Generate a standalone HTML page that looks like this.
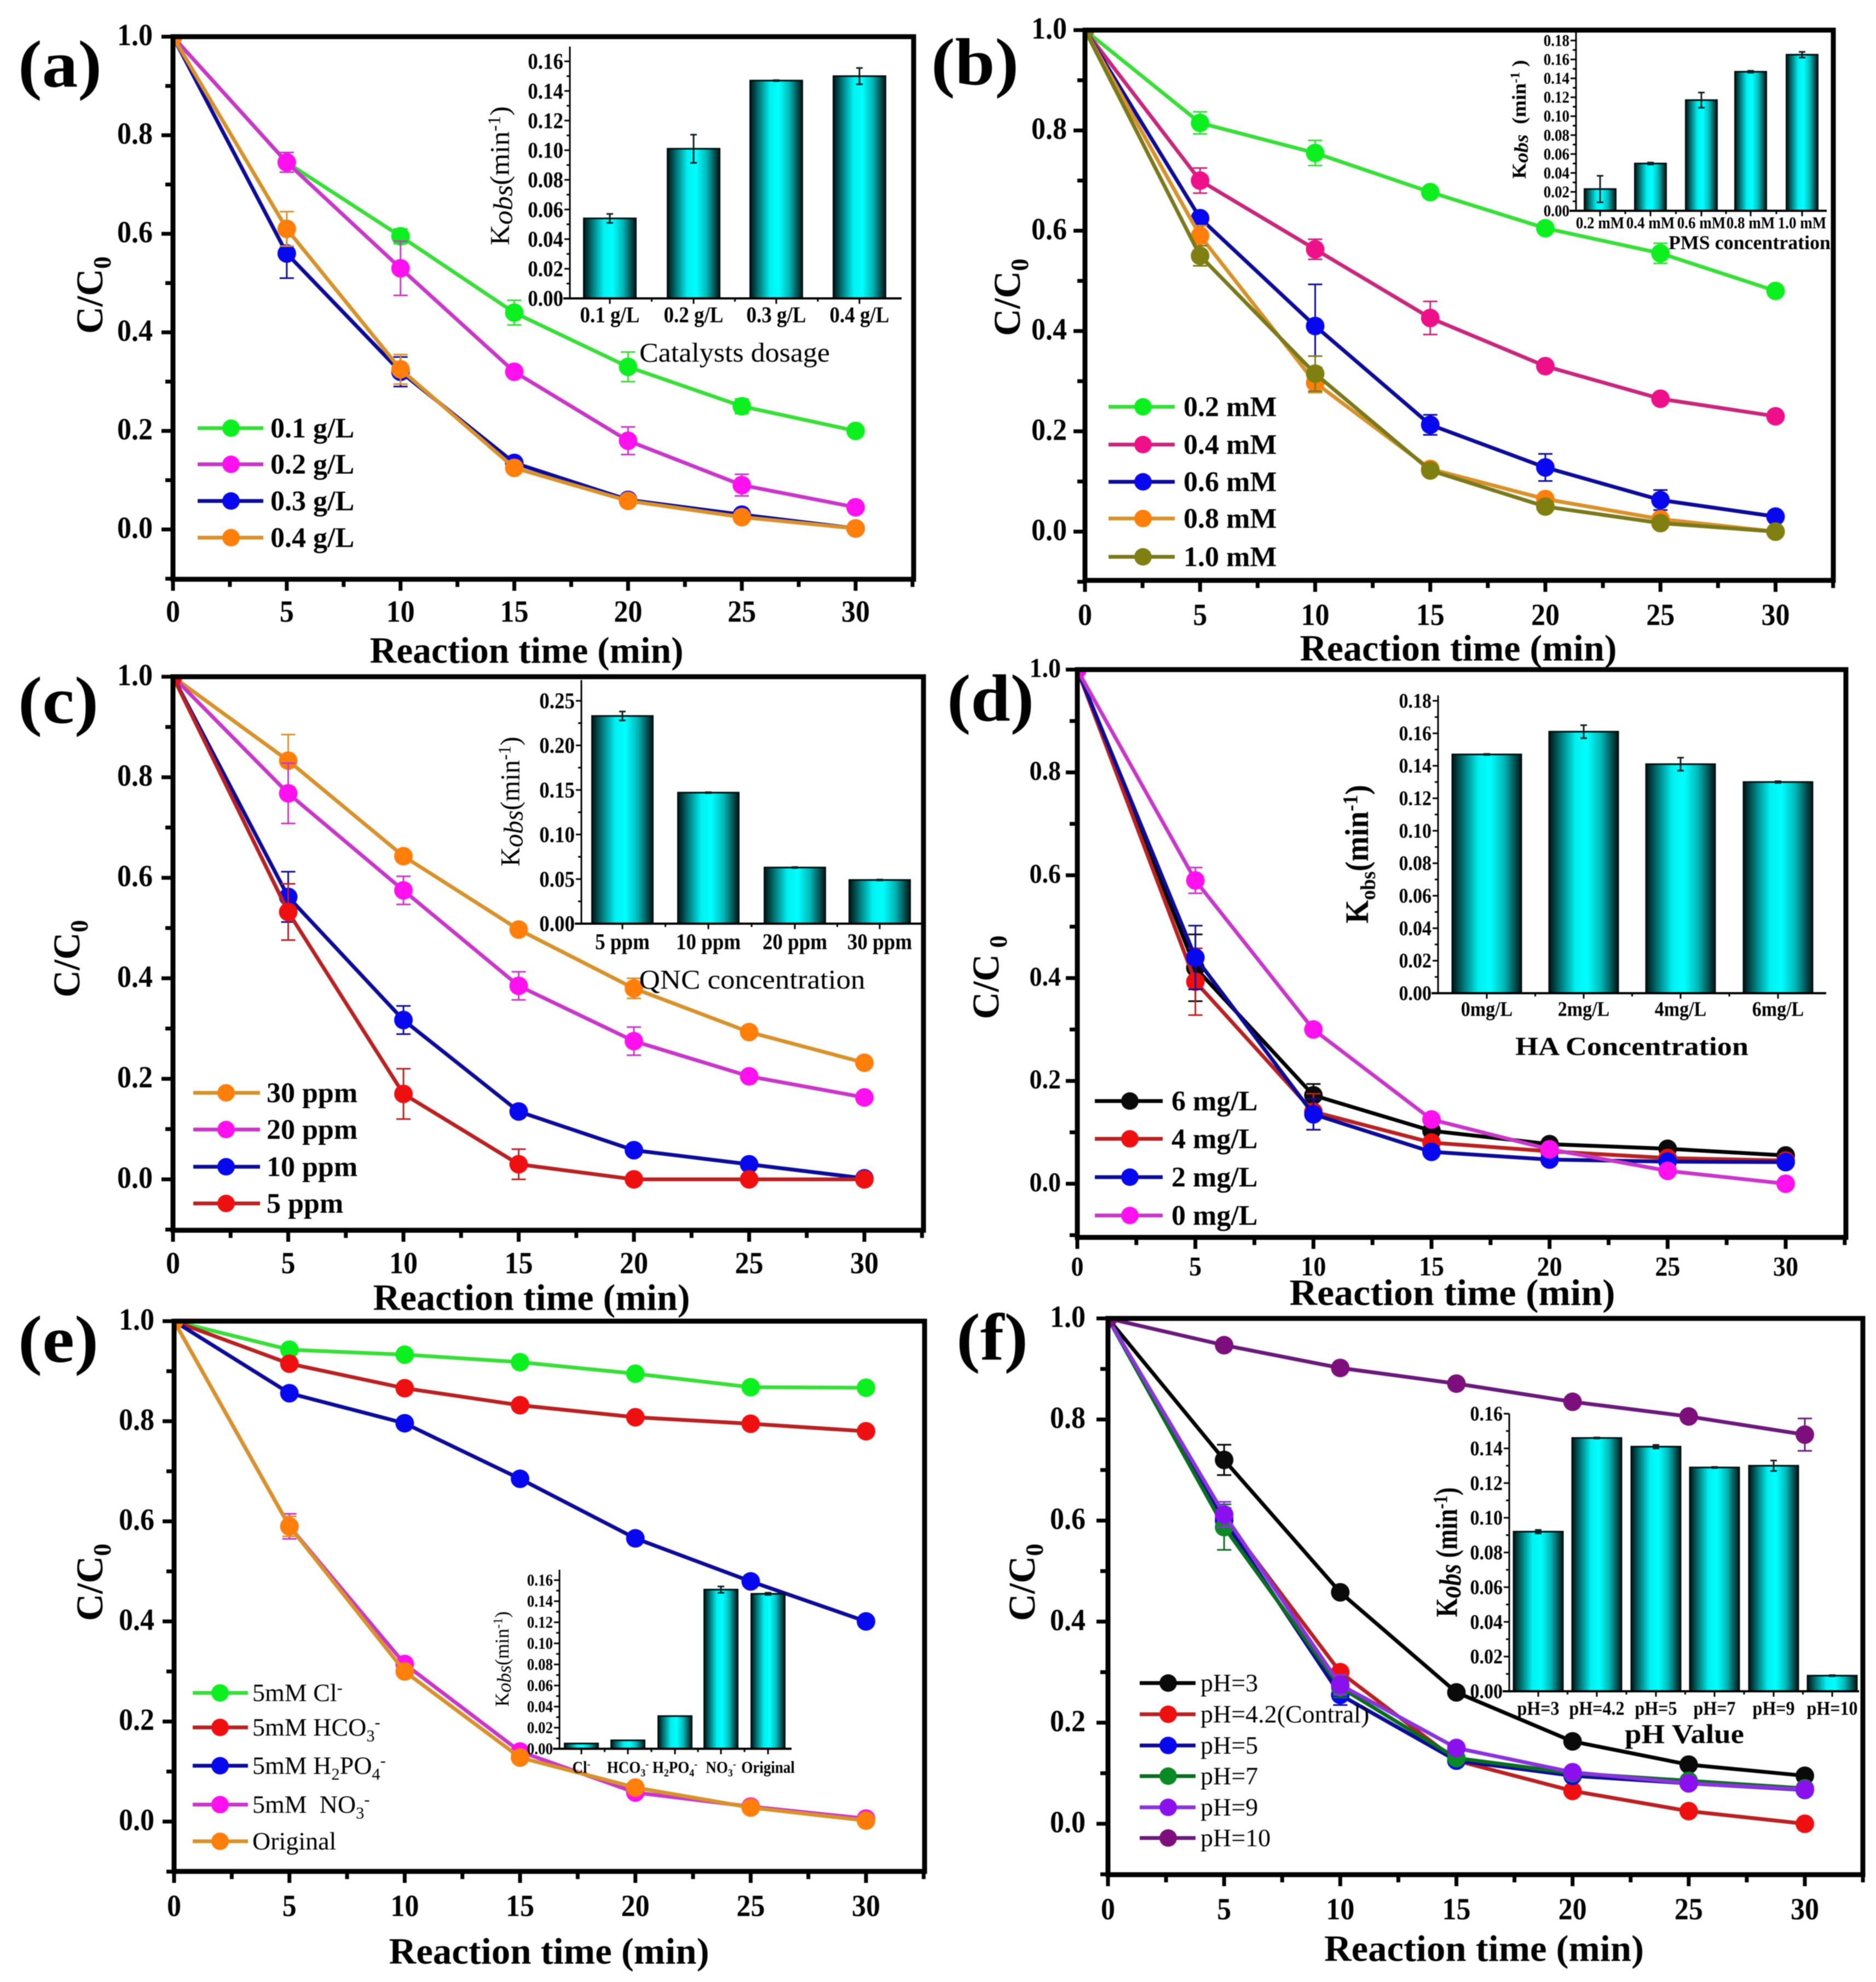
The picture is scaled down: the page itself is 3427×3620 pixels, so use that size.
<!DOCTYPE html>
<html lang="en">
<head>
<meta charset="utf-8">
<title>Degradation kinetics panels</title>
<style>
html,body{margin:0;padding:0;background:#fff;}
svg{display:block;font-family:"Liberation Serif",serif;filter:blur(0.7px);}
</style>
</head>
<body>
<svg id="figure" xmlns="http://www.w3.org/2000/svg" width="3427" height="3620" viewBox="0 0 3427 3620">
<defs>
<linearGradient id="barFill" x1="0" x2="1" y1="0" y2="0">
<stop offset="0" stop-color="#001414"/>
<stop offset="0.18" stop-color="#007f7f"/>
<stop offset="0.38" stop-color="#00f0f0"/>
<stop offset="0.55" stop-color="#00ffff"/>
<stop offset="0.75" stop-color="#00b8b8"/>
<stop offset="1" stop-color="#001414"/>
</linearGradient>
</defs>
<rect x="0" y="0" width="3427" height="3620" fill="#ffffff"/>
</svg>
<script>
/* ---------- shared axis values ---------- */
const timePoints = [0,5,10,15,20,25,30];
const xTickLabels = [0,5,10,15,20,25,30];
const yTickLabels = [0,0.2,0.4,0.6,0.8,1.0];

/* ---------- panel a ---------- */
const a_01 = [1,0.745,0.595,0.44,0.33,0.25,0.20];
const a_01_err = [0,0.02,0.015,0.025,0.03,0.015,0.005];
const a_02 = [1,0.745,0.53,0.32,0.18,0.09,0.045];
const a_02_err = [0,0.02,0.055,0.01,0.028,0.022,0.005];
const a_03 = [1,0.56,0.32,0.135,0.06,0.03,0.002];
const a_03_err = [0,0.05,0.03,0.01,0.01,0.008,0];
const a_04 = [1,0.61,0.325,0.125,0.058,0.025,0.002];
const a_04_err = [0,0.035,0.03,0.01,0.008,0.005,0];
const a_cats = ["0.1 g/L","0.2 g/L","0.3 g/L","0.4 g/L"];
const a_k = [0.054,0.101,0.147,0.150];
const a_kErr = [0.003,0.0095,0.0003,0.0055];
const a_kTicks = [0,0.02,0.04,0.06,0.08,0.10,0.12,0.14,0.16];

/* ---------- panel b ---------- */
const b_02 = [1,0.815,0.755,0.677,0.605,0.555,0.48];
const b_02_err = [0,0.022,0.025,0.01,0.01,0.02,0.005];
const b_04 = [1,0.70,0.563,0.426,0.33,0.265,0.23];
const b_04_err = [0,0.025,0.02,0.033,0.005,0.005,0.003];
const b_06 = [1,0.625,0.41,0.213,0.128,0.063,0.03];
const b_06_err = [0,0.005,0.083,0.02,0.027,0.02,0.005];
const b_08 = [1,0.59,0.297,0.125,0.065,0.025,0];
const b_08_err = [0,0.02,0.02,0.01,0.01,0.01,0.002];
const b_10 = [1,0.55,0.315,0.122,0.05,0.017,0];
const b_10_err = [0,0.02,0.035,0.01,0.01,0.008,0.002];
const b_cats = ["0.2 mM","0.4 mM","0.6 mM","0.8 mM","1.0 mM"];
const b_k = [0.023,0.05,0.117,0.147,0.165];
const b_kErr = [0.014,0.001,0.008,0.001,0.003];
const b_kTicks = [0,0.02,0.04,0.06,0.08,0.10,0.12,0.14,0.16,0.18];

/* ---------- panel c ---------- */
const c_30 = [1,0.833,0.643,0.497,0.38,0.293,0.232];
const c_30_err = [0,0.052,0.005,0.005,0.02,0.005,0.005];
const c_20 = [1,0.768,0.575,0.385,0.275,0.205,0.163];
const c_20_err = [0,0.06,0.028,0.028,0.028,0.01,0.005];
const c_10 = [1,0.562,0.317,0.135,0.058,0.03,0.002];
const c_10_err = [0,0.05,0.028,0.005,0.005,0.005,0];
const c_5 = [1,0.532,0.17,0.03,0,0,0];
const c_5_err = [0,0.056,0.05,0.03,0,0,0];
const c_cats = ["5 ppm","10 ppm","20 ppm","30 ppm"];
const c_k = [0.233,0.147,0.063,0.049];
const c_kErr = [0.005,0.0005,0.0005,0.0005];
const c_kTicks = [0,0.05,0.10,0.15,0.20,0.25];

/* ---------- panel d ---------- */
const d_6 = [1,0.42,0.172,0.103,0.077,0.068,0.055];
const d_6_err = [0,0.065,0.022,0.005,0.005,0.005,0.005];
const d_4 = [1,0.393,0.14,0.08,0.063,0.05,0.045];
const d_4_err = [0,0.065,0.035,0.005,0.005,0.005,0.005];
const d_2 = [1,0.44,0.135,0.062,0.047,0.043,0.042];
const d_2_err = [0,0.062,0.03,0.005,0.005,0.005,0.005];
const d_0 = [1,0.59,0.30,0.125,0.067,0.025,0];
const d_0_err = [0,0.025,0.005,0.005,0.005,0.005,0];
const d_cats = ["0mg/L","2mg/L","4mg/L","6mg/L"];
const d_k = [0.147,0.161,0.141,0.130];
const d_kErr = [0.0003,0.004,0.004,0.0005];
const d_kTicks = [0,0.02,0.04,0.06,0.08,0.10,0.12,0.14,0.16,0.18];

/* ---------- panel e ---------- */
const e_cl = [1,0.943,0.933,0.918,0.895,0.868,0.867];
const e_cl_err = [0,0.003,0.003,0.003,0.003,0.003,0.003];
const e_hco3 = [1,0.915,0.866,0.832,0.808,0.795,0.78];
const e_hco3_err = [0,0.003,0.003,0.003,0.003,0.003,0.003];
const e_h2po4 = [1,0.856,0.796,0.685,0.566,0.48,0.40];
const e_h2po4_err = [0,0.003,0.003,0.003,0.003,0.003,0.003];
const e_no3 = [1,0.59,0.315,0.14,0.058,0.03,0.006];
const e_no3_err = [0,0.025,0.005,0.005,0.005,0.005,0.005];
const e_orig = [1,0.59,0.30,0.128,0.068,0.028,0.002];
const e_orig_err = [0,0.02,0.005,0.005,0.005,0.005,0.002];
const e_cats = ["Cl^{-}","HCO_{3}^{-}","H_{2}PO_{4}^{-}","NO_{3}^{-}","Original"];
const e_k = [0.005,0.008,0.031,0.151,0.147];
const e_kErr = [0,0,0,0.003,0.001];
const e_kTicks = [0,0.02,0.04,0.06,0.08,0.10,0.12,0.14,0.16];

/* ---------- panel f ---------- */
const f_3 = [1,0.72,0.458,0.26,0.163,0.117,0.095];
const f_3_err = [0,0.03,0.005,0.005,0.005,0.005,0.005];
const f_42 = [1,0.605,0.30,0.125,0.065,0.025,0];
const f_42_err = [0,0.02,0.005,0.005,0.005,0.005,0];
const f_5 = [1,0.60,0.255,0.125,0.095,0.08,0.067];
const f_5_err = [0,0.02,0.02,0.005,0.005,0.005,0.005];
const f_7 = [1,0.587,0.27,0.13,0.10,0.085,0.07];
const f_7_err = [0,0.045,0.02,0.005,0.005,0.005,0.005];
const f_9 = [1,0.612,0.275,0.15,0.102,0.08,0.068];
const f_9_err = [0,0.025,0.02,0.005,0.005,0.005,0.005];
const f_10 = [1,0.947,0.902,0.871,0.835,0.806,0.77];
const f_10_err = [0,0.005,0.005,0.005,0.005,0.005,0.032];
const f_cats = ["pH=3","pH=4.2","pH=5","pH=7","pH=9","pH=10"];
const f_k = [0.092,0.146,0.141,0.129,0.130,0.009];
const f_kErr = [0.001,0.0003,0.001,0.0003,0.003,0.0003];
const f_kTicks = [0,0.02,0.04,0.06,0.08,0.10,0.12,0.14,0.16];

/* ---------- styling and layout ---------- */
const GREEN = {l:"#3ade3a",m:"#0df01f"}, MAG = {l:"#c838c8",m:"#ff10ee"}, NAVY = {l:"#0c0c98",m:"#0808ee"},
      ORG = {l:"#d8922c",m:"#ff7f0a"}, PINK = {l:"#c8287c",m:"#ee1088"}, OLIVE = {l:"#7a7a1c",m:"#808012"},
      RED = {l:"#b82222",m:"#ee1010"}, BLK = {l:"#000000",m:"#0a0a0a"}, DGRN = {l:"#0a6e20",m:"#0a8a24"},
      VIO = {l:"#8a34dc",m:"#8a10ee"}, PUR = {l:"#6a1a7a",m:"#7d0f7d"};

const panels = [
 {id:"a",left:316,right:1669,top:67,bottom:1058,x0:316,x30:1563,yOne:67,yZero:967,fs:52,xLabY:1117,yLabR:279,
  xTitle:[962,1188,573,68],yTitle:[164,539,69,"C/C_{0}"],tag:[33,118,153,122],
  series:[["0.1 g/L",a_01,a_01_err,GREEN],["0.2 g/L",a_02,a_02_err,MAG],["0.3 g/L",a_03,a_03_err,NAVY],["0.4 g/L",a_04,a_04_err,ORG]],
  legend:{x1:361,x2:481,mx:422,tx:494,ys:[782,848,915,982],fs:52,weight:"bold"},
  inset:{ax:1041,base:545,top:85,right:1647,refV:0.16,refY:112,ticks:a_kTicks,fs:37,cats:a_cats,k:a_k,err:a_kErr,
   centers:[1114,1267,1418,1570],bw:95,catY:575,catFs:37,title:"Catalysts dosage",tPos:[1342,644,348,50],tWeight:"normal",
   yT:"K~{obs}(min^{-1})",yTPos:[913,321,254,50],yW:"normal"}},
 {id:"b",left:1982,right:3349,top:55,bottom:1060,x0:1982,x30:3243.5,yOne:55,yZero:971,fs:52,xLabY:1123,yLabR:1949,
  xTitle:[2664,1184,579,68],yTitle:[1840,543,69,"C/C_{0}"],tag:[1701,114,160,122],
  series:[["0.2 mM",b_02,b_02_err,GREEN],["0.4 mM",b_04,b_04_err,PINK],["0.6 mM",b_06,b_06_err,NAVY],["0.8 mM",b_08,b_08_err,ORG],["1.0 mM",b_10,b_10_err,OLIVE]],
  legend:{x1:2025,x2:2146,mx:2088,tx:2162,ys:[743,812,880,947,1017],fs:52,weight:"bold"},
  inset:{ax:2879,base:385,top:58,right:3337,refV:0.18,refY:74,ticks:b_kTicks,fs:27,cats:b_cats,k:b_k,err:b_kErr,
   centers:[2923,3015,3108,3198,3292],bw:57,catY:407,catFs:27,title:"PMS concentration",tPos:[3196,443,296,36],tWeight:"bold",
   yT:"K~{obs}  (min^{-1} )",yTPos:[2775,218,217,36],yW:"bold"}},
 {id:"c",left:316,right:1687,top:1236,bottom:2247,x0:316,x30:1579,yOne:1236,yZero:2154,fs:52,xLabY:2307,yLabR:279,
  xTitle:[971,2370,579,68],yTitle:[122,1751,69,"C/C_{0}"],tag:[33,1280,147,122],
  series:[["30 ppm",c_30,c_30_err,ORG],["20 ppm",c_20,c_20_err,MAG],["10 ppm",c_10,c_10_err,NAVY],["5 ppm",c_5,c_5_err,RED]],
  legend:{x1:353,x2:475,mx:413,tx:487,ys:[1996,2063,2131,2198],fs:52,weight:"bold"},
  inset:{ax:1062,base:1687,top:1242,right:1683,refV:0.25,refY:1280,ticks:c_kTicks,fs:37,cats:c_cats,k:c_k,err:c_kErr,
   centers:[1137,1294,1452,1607],bw:111,catY:1720,catFs:37,title:"QNC concentration",tPos:[1374,1789,413,50],tWeight:"normal",
   yT:"K~{obs}(min^{-1})",yTPos:[932,1464,237,50],yW:"normal"}},
 {id:"d",left:1968,right:3372,top:1223,bottom:2260,x0:1968,x30:3262,yOne:1223,yZero:2162,fs:46,xLabY:2313,yLabR:1938,
  xTitle:[2653,2361,595,68],yTitle:[1801,1785,69,"C/C_{ 0}"],tag:[1730,1276,159,122],
  series:[["6 mg/L",d_6,d_6_err,BLK],["4 mg/L",d_4,d_4_err,RED],["2 mg/L",d_2,d_2_err,NAVY],["0 mg/L",d_0,d_0_err,MAG]],
  legend:{x1:2000,x2:2124,mx:2064,tx:2140,ys:[2011,2080,2150,2220],fs:52,weight:"bold"},
  inset:{ax:2627,base:1814,top:1270,right:3336,refV:0.18,refY:1280,ticks:d_kTicks,fs:34,cats:d_cats,k:d_k,err:d_kErr,
   centers:[2716,2893,3070,3248],bw:126,catY:1843,catFs:34,title:"HA Concentration",tPos:[2981,1911,426,48],tWeight:"bold",
   yT:"K_{obs}(min^{-1})",yTPos:[2479,1560,253,60],yW:"bold"}},
 {id:"e",left:318,right:1689,top:2413,bottom:3418,x0:318,x30:1582,yOne:2413,yZero:3327,fs:52,xLabY:3481,yLabR:282,
  xTitle:[1003,3564,585,68],yTitle:[164,2890,69,"C/C_{0}"],tag:[33,2447,147,122],
  series:[["5mM Cl^{-}",e_cl,e_cl_err,GREEN],["5mM HCO_{3}^{-}",e_hco3,e_hco3_err,RED],["5mM H_{2}PO_{4}^{-}",e_h2po4,e_h2po4_err,NAVY],["5mM  NO_{3}^{-}",e_no3,e_no3_err,MAG],["Original",e_orig,e_orig_err,ORG]],
  legend:{x1:352,x2:453,mx:402,tx:461,ys:[3092,3155,3225,3296,3363],fs:46,weight:"normal"},
  inset:{ax:1022,base:3194,top:2867,right:1446,refV:0.16,refY:2886,ticks:e_kTicks,fs:27,cats:e_cats,k:e_k,err:e_kErr,
   centers:[1062,1147,1233,1317,1403],bw:61,catY:3228,catFs:27,title:"",tPos:[0,0,0,0],tWeight:"normal",
   yT:"K~{obs}(min^{-1})",yTPos:[917,3030,174,36],yW:"normal"}},
 {id:"f",left:2024,right:3403,top:2408,bottom:3424,x0:2024,x30:3297,yOne:2408,yZero:3331,fs:52,xLabY:3487,yLabR:1983,
  xTitle:[2711,3559,584,68],yTitle:[1867,2890,69,"C/C_{0}"],tag:[1747,2443,131,122],
  series:[["pH=3",f_3,f_3_err,BLK],["pH=4.2(Contral)",f_42,f_42_err,RED],["pH=5",f_5,f_5_err,NAVY],["pH=7",f_7,f_7_err,DGRN],["pH=9",f_9,f_9_err,VIO],["pH=10",f_10,f_10_err,PUR]],
  legend:{x1:2082,x2:2184,mx:2134,tx:2193,ys:[3074,3131,3188,3244,3301,3357],fs:46,weight:"normal"},
  inset:{ax:2757,base:3089,top:2582,right:3396,refV:0.16,refY:2582,ticks:f_kTicks,fs:34,cats:f_cats.map(s=>s),k:f_k,err:f_kErr,
   centers:[2810,2917,3025,3132,3240,3347],bw:90,catY:3120,catFs:32,title:"pH Value",tPos:[3077,3167,218,50],tWeight:"bold",
   yT:"K~{obs} (min^{-1})",yTPos:[2643,2835,237,56],yW:"bold"}}
];

/* ---------- drawing helpers ---------- */
const NS = "http://www.w3.org/2000/svg";
const root = document.getElementById("figure");

function mk(tag, attrs, parent, name) {
  const el = document.createElementNS(NS, tag);
  for (const k in attrs) el.setAttribute(k, attrs[k]);
  
  
  parent.appendChild(el);
  return el;
}

/* markup: _{sub} ^{sup} ~{italic sub}. o.tall enlarges glyph height while keeping the natural width */
function txt(parent, name, x, cy, content, baseSize, o) {
  o = o || {};
  const tall = o.tall || 1;
  const size = baseSize * tall;
  const attrs = {x:x, y:cy + size*0.33, "font-size":size, "font-weight":o.weight||"bold", "text-anchor":o.anchor||"start", fill:"#000"};
  attrs["xml:space"] = "preserve";
  attrs.style = "white-space:pre";
  if (o.rot) attrs.transform = "rotate(-90 " + x + " " + cy + ")";
  if (o.width) { attrs.textLength = o.width; attrs.lengthAdjust = "spacingAndGlyphs"; }
  const el = mk("text", attrs, parent, name);
  const re = /([_^~])\{(.*?)\}/g;
  let pos = 0, shift = 0, m;
  const seg = (s, newShift, small, ital) => {
    if (!s) return;
    const t = document.createElementNS(NS, "tspan");
    t.setAttribute("dy", ((newShift - shift) * size).toFixed(1));
    if (small) t.setAttribute("font-size", (size*0.66).toFixed(1));
    if (ital) t.setAttribute("font-style", "italic");
    t.textContent = s;
    el.appendChild(t);
    shift = newShift;
  };
  while ((m = re.exec(content))) {
    seg(content.slice(pos, m.index), 0, false, false);
    if (m[1] === "_") seg(m[2], 0.22, true, false);
    else if (m[1] === "^") seg(m[2], -0.32, true, false);
    else seg(m[2], 0.12, false, true);
    pos = m.index + m[0].length;
  }
  seg(content.slice(pos), 0, false, false);
  if (tall !== 1 && !o.width) {
    el.setAttribute("textLength", (el.getComputedTextLength() / tall).toFixed(1));
    el.setAttribute("lengthAdjust", "spacingAndGlyphs");
  }
  return el;
}

function line(parent, name, x1, y1, x2, y2, stroke, w) {
  return mk("line", {x1:x1,y1:y1,x2:x2,y2:y2,stroke:stroke,"stroke-width":w}, parent, name);
}

function drawPanel(p) {
  const g = mk("g", {}, root, "panel-" + p.id);
  const sx = t => p.x0 + t * (p.x30 - p.x0) / 30;
  const sy = v => p.yZero - v * (p.yZero - p.yOne);

  const clip = mk("clipPath", {id:"clip-" + p.id}, g, "plot-clip-" + p.id);
  mk("rect", {x:p.left, y:p.top, width:p.right-p.left, height:p.bottom-p.top}, clip, "plot-clip-rect");

  /* series */
  const plot = mk("g", {"clip-path":"url(#clip-" + p.id + ")"}, g, "plot-area-" + p.id);
  p.series.forEach((s, si) => {
    const sg = mk("g", {}, plot, "series-" + p.id + "-" + si);
    const pts = timePoints.map((t, i) => sx(t).toFixed(1) + "," + sy(s[1][i]).toFixed(1)).join(" ");
    mk("polyline", {points:pts, fill:"none", stroke:s[3].l, "stroke-width":7, "stroke-linejoin":"round"}, sg, "series-line");
    timePoints.forEach((t, i) => {
      const e = s[2][i], cx = sx(t);
      if (e > 0) {
        const yU = sy(s[1][i] + e), yD = sy(s[1][i] - e);
        line(sg, "error-bar", cx, yU, cx, yD, s[3].l, 3);
        line(sg, "error-cap", cx-13, yU, cx+13, yU, s[3].l, 3);
        line(sg, "error-cap", cx-13, yD, cx+13, yD, s[3].l, 3);
      }
      mk("circle", {cx:cx, cy:sy(s[1][i]), r:17, fill:s[3].m}, sg, "data-point");
    });
  });

  /* frame */
  mk("rect", {x:p.left, y:p.top, width:p.right-p.left, height:p.bottom-p.top, fill:"none", stroke:"#000", "stroke-width":9}, g, "plot-frame-" + p.id);

  /* x ticks */
  for (let t = 0; t <= 32.5; t += 2.5) {
    const major = t % 5 === 0;
    line(g, major ? "x-major-tick" : "x-minor-tick", sx(t), p.bottom, sx(t), p.bottom + (major ? 21 : 14), "#000", 7);
  }
  xTickLabels.forEach(t => txt(g, "x-tick-label", sx(t), p.xLabY, String(t), p.fs, {anchor:"middle", tall:1.08}));

  /* y ticks */
  for (let i = -1; i <= 10; i++) {
    const v = i / 10, major = i >= 0 && i % 2 === 0;
    line(g, major ? "y-major-tick" : "y-minor-tick", p.left, sy(v), p.left - (major ? 21 : 14), sy(v), "#000", 7);
  }
  yTickLabels.forEach(v => txt(g, "y-tick-label", p.yLabR, sy(v) - 3, v.toFixed(1), p.fs, {anchor:"end", tall:1.08}));

  /* titles */
  txt(g, "x-axis-title", p.xTitle[0], p.xTitle[1], "Reaction time (min)", p.xTitle[3], {anchor:"middle", width:p.xTitle[2]});
  txt(g, "y-axis-title", p.yTitle[0], p.yTitle[1], p.yTitle[3], p.yTitle[2], {anchor:"middle", rot:true});
  txt(g, "panel-label", p.tag[0], p.tag[1], "(" + p.id + ")", p.tag[3], {width:p.tag[2]});

  /* legend */
  const lg = mk("g", {}, g, "legend-" + p.id);
  p.series.forEach((s, i) => {
    const y = p.legend.ys[i];
    const en = mk("g", {}, lg, "legend-entry");
    line(en, "legend-line", p.legend.x1, y, p.legend.x2, y, s[3].l, 7);
    mk("circle", {cx:p.legend.mx, cy:y, r:16, fill:s[3].m}, en, "legend-marker");
    txt(en, "legend-label", p.legend.tx, y, s[0], p.legend.fs, {weight:p.legend.weight});
  });

  /* inset */
  const q = p.inset;
  const ig = mk("g", {}, g, "inset-" + p.id);
  const ky = v => q.base - v * (q.base - q.refY) / q.refV;
  q.k.forEach((v, i) => {
    const cx = q.centers[i];
    mk("rect", {x:cx-q.bw/2, y:ky(v), width:q.bw, height:q.base-ky(v), fill:"url(#barFill)", stroke:"#001010", "stroke-width":3}, ig, "inset-bar");
    const e = q.err[i];
    if (e > 0) {
      line(ig, "inset-error-bar", cx, ky(v+e), cx, ky(v-e), "#102020", 3);
      line(ig, "inset-error-cap", cx-6, ky(v+e), cx+6, ky(v+e), "#102020", 3);
      line(ig, "inset-error-cap", cx-6, ky(v-e), cx+6, ky(v-e), "#102020", 3);
    }
    line(ig, "inset-x-tick", cx, q.base, cx, q.base+10, "#000", 3);
    if (i < q.k.length - 1) line(ig, "inset-x-minor-tick", (cx+q.centers[i+1])/2, q.base, (cx+q.centers[i+1])/2, q.base+6, "#000", 3);
    txt(ig, "inset-category-label", cx, q.catY, q.cats[i], q.catFs, {anchor:"middle", tall:1.12});
  });
  line(ig, "inset-y-axis", q.ax, q.top, q.ax, q.base+2, "#000", 3);
  line(ig, "inset-x-axis", q.ax-12, q.base, q.right, q.base, "#000", 4);
  q.ticks.forEach((v, i) => {
    line(ig, "inset-y-tick", q.ax, ky(v), q.ax-10, ky(v), "#000", 3);
    if (i < q.ticks.length - 1) {
      const mid = (v + q.ticks[i+1]) / 2;
      line(ig, "inset-y-minor-tick", q.ax, ky(mid), q.ax-6, ky(mid), "#000", 3);
    }
    txt(ig, "inset-y-tick-label", q.ax-12, ky(v), v.toFixed(2), q.fs, {anchor:"end", tall:1.12});
  });
  if (q.title) txt(ig, "inset-x-title", q.tPos[0], q.tPos[1], q.title, q.tPos[3], {anchor:"middle", width:q.tPos[2], weight:q.tWeight});
  txt(ig, "inset-y-title", q.yTPos[0], q.yTPos[1], q.yT, q.yTPos[3], {anchor:"middle", rot:true, width:q.yTPos[2], weight:q.yW});
}

panels.forEach(drawPanel);
</script>
</body>
</html>
